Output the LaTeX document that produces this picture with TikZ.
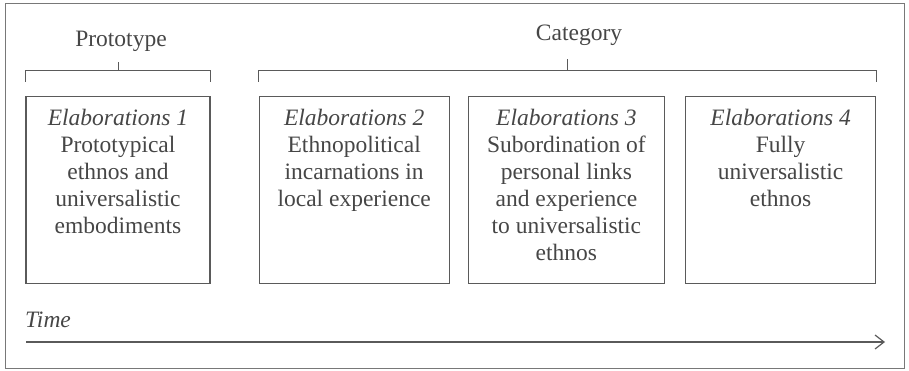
\documentclass[tikz,border=0pt]{standalone}
\usepackage{fontspec}
\setmainfont{Liberation Serif}
\definecolor{framegray}{RGB}{120, 120, 120}
\definecolor{linegray}{RGB}{90, 90, 90}
\definecolor{textgray}{RGB}{70, 70, 70}
\usetikzlibrary{arrows.meta, positioning, calc}

\begin{document}
\begin{tikzpicture}[x=1pt, y=1pt,
  stage/.style={draw=linegray, line width=1.2pt, minimum height=187pt, inner sep=0pt},
  stagetext/.style={text=textgray, align=center, inner sep=0pt, font=\fontsize{23.5}{27}\selectfont},
  lbl/.style={text=textgray, inner sep=0pt, font=\fontsize{23.5}{27}\selectfont},
  brace/.style={draw=linegray, line width=1pt}]
  \useasboundingbox (0,0) rectangle (909,370);
  \draw[framegray, line width=1pt] (5,2) rectangle (904,366);

  % the four elaborations
  \node[stage, minimum width=184pt] (e1) at (118,180) {};
  \node[stage, minimum width=190pt, right=48pt of e1] (e2) {};
  \node[stage, minimum width=196pt, right=18pt of e2] (e3) {};
  \node[stage, minimum width=190pt, right=20pt of e3] (e4) {};

  \node[stagetext, below=13pt of e1.north] (d1) {\textit{Elaborations 1}\\Prototypical\\ethnos and\\universalistic\\embodiments};
  \node[stagetext, below=13pt of e2.north] (d2) {\textit{Elaborations 2}\\Ethnopolitical\\incarnations in\\local experience};
  \node[stagetext, below=13pt of e3.north] (d3) {\textit{Elaborations 3}\\Subordination of\\personal links\\and experience\\to universalistic\\ethnos};
  \node[stagetext, below=13pt of e4.north] (d4) {\textit{Elaborations 4}\\Fully\\universalistic\\ethnos};

  % brackets
  \draw[brace] ([yshift=14pt]e1.north west) -- ++(0,11) -| ([yshift=14pt]e1.north east);
  \draw[brace] ([yshift=25pt]e1.north) -- ++(0,9);
  \draw[brace] ([yshift=14pt]e2.north west) -- ++(0,11) -| ([yshift=14pt]e4.north east);
  \draw[brace] ($([yshift=25pt]e2.north west)!0.5!([yshift=25pt]e4.north east)$) -- ++(0,12);

  \node[lbl, anchor=base] (proto) at (121,323) {Prototype};
  \node[lbl, anchor=base] (categ) at (579,329) {Category};

  % time axis
  \node[lbl, anchor=base west] (time) at (25,43) {\textit{Time}};
  \coordinate (tstart) at (26,28);
  \coordinate (tend) at (885,28);
  \draw[linegray, line width=1.2pt, -{Straight Barb[length=9pt, width=14pt]}] (tstart) -- (tend);
\end{tikzpicture}
\end{document}
